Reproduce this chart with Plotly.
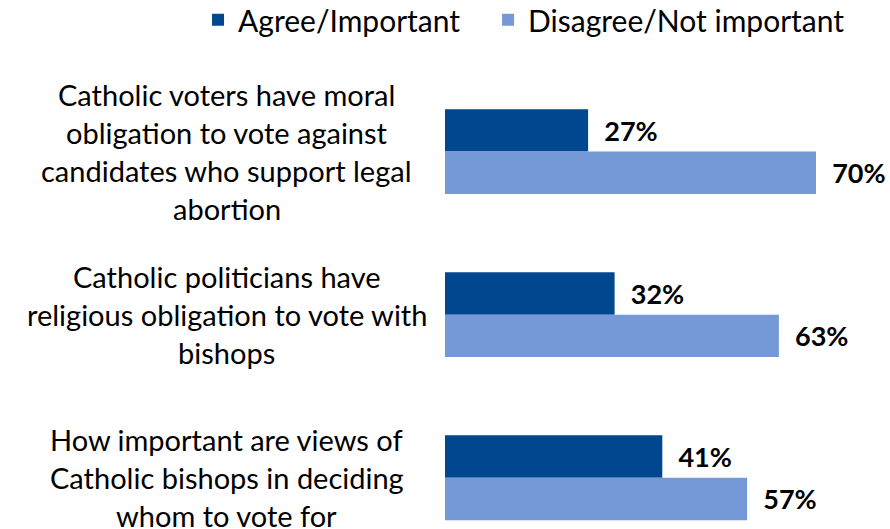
import plotly.graph_objects as go

categories = [
    "Catholic voters have moral<br>obligation to vote against<br>candidates who support legal<br>abortion",
    "Catholic politicians have<br>religious obligation to vote with<br>bishops",
    "How important are views of<br>Catholic bishops in deciding<br>whom to vote for",
]
agree = [27, 32, 41]
disagree = [70, 63, 57]
series_names = ["Agree/Important", "Disagree/Not important"]
colors = ["#00478F", "#7598D7"]

FONT = "Lato, 'Open Sans', sans-serif"
yidx = list(range(len(categories)))

fig = go.Figure()
for k, (name, vals, col) in enumerate(zip(series_names, [agree, disagree], colors)):
    pad = "\u00a0" * 3 if k == 0 else ""
    fig.add_trace(go.Bar(
        y=yidx, x=vals, name=name + pad, orientation="h",
        marker=dict(color=col, line=dict(width=0)),
        text=[f"\u00a0\u00a0{v}%" for v in vals],
        textposition="outside",
        textfont=dict(family=FONT, size=27, color="black", weight="bold"),
        cliponaxis=False,
    ))

# multi-line category labels, one annotation per line for Excel-like line spacing
LINE = 38
for i, cat in enumerate(categories):
    lines = cat.split("<br>")
    n = len(lines)
    for j, ln in enumerate(lines):
        fig.add_annotation(
            xref="paper", yref="y", x=-0.49, y=i,
            yshift=((n - 1) / 2 - j) * LINE,
            text=ln, showarrow=False, xanchor="center", yanchor="middle",
            font=dict(family=FONT, size=29, color="black"),
        )

fig.update_layout(
    width=890, height=529,
    margin=dict(l=445, r=0, t=70, b=0, autoexpand=False),
    paper_bgcolor="white", plot_bgcolor="white",
    barmode="group", bargap=0.48, bargroupgap=0,
    showlegend=True,
    legend=dict(orientation="h", x=-0.555, y=1.166, xanchor="left", yanchor="top",
                font=dict(family=FONT, size=30, color="black"),
                itemwidth=30,
                bgcolor="rgba(0,0,0,0)", tracegroupgap=0,
                traceorder="normal"),
    xaxis=dict(visible=False, range=[0, 445 / 5.3]),
    yaxis=dict(showticklabels=False, showgrid=False, zeroline=False, showline=False,
               range=[2.314, -0.5]),
)

fig.write_html("out.html")
